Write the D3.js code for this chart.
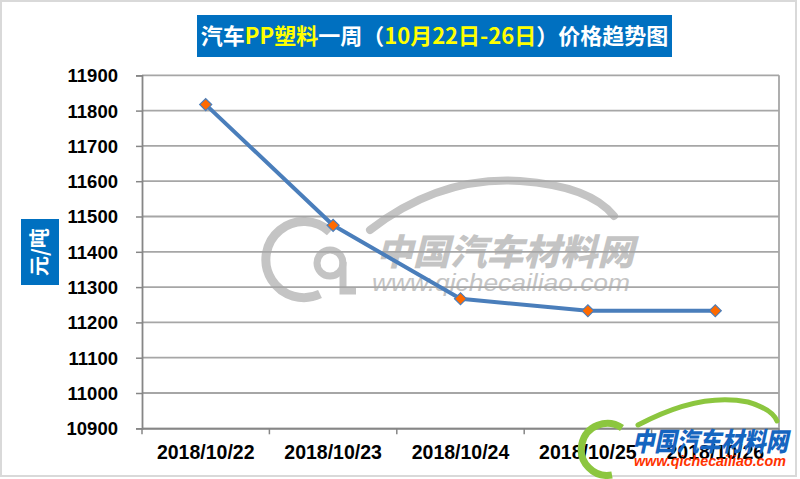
<!DOCTYPE html>
<html><head><meta charset="utf-8">
<script src="https://cdn.jsdelivr.net/npm/d3@7/dist/d3.min.js"></script>
<style>body{margin:0;background:#fff}svg{display:block}</style>
</head><body><svg id="c" width="800" height="479"></svg>
<script>
const categories = ["2018/10/22","2018/10/23","2018/10/24","2018/10/25","2018/10/26"];
const values = [11817, 11475, 11267, 11233, 11233];
const yTicks = [10900,11000,11100,11200,11300,11400,11500,11600,11700,11800,11900];
const titleParts = [["汽车","#fff"],["PP塑料","#ffff00"],["一周（","#fff"],["10月22日-26日","#ffff00"],["）价格趋势图","#fff"]];
const yLabel = "元/吨";

const svg = d3.select("#c");
const m={l:142,r:779,t:75.3,b:428.3};
svg.append("rect").attr("x",1).attr("y",1).attr("width",795).attr("height",475).attr("fill","#fff").attr("stroke","#d9d9d9").attr("stroke-width",2);

const x=d3.scaleBand().domain(categories).range([m.l,m.r]);
const y=d3.scaleLinear().domain([10900,11900]).range([m.b,m.t]);

// watermark (center)
const wc="#c4c4c4";
const wm=svg.append("g");
wm.append("path").attr("d","M370,230 Q440,176 520,181 Q590,186 614,216").attr("fill","none").attr("stroke",wc).attr("stroke-width",8).attr("stroke-linecap","round");
wm.append("path").attr("d","M330,232 A38,38 0 1 0 320,294").attr("fill","none").attr("stroke",wc).attr("stroke-width",9);
wm.append("circle").attr("cx",330).attr("cy",263).attr("r",13).attr("fill","none").attr("stroke",wc).attr("stroke-width",7);
wm.append("path").attr("d","M343,262 L343,291 L356,291").attr("fill","none").attr("stroke",wc).attr("stroke-width",7);
wm.append("text").attr("x",376).attr("y",265).attr("font-family","Noto Sans CJK SC").attr("font-weight",900).attr("font-style","italic").attr("font-size",36).attr("fill",wc).attr("textLength",258).attr("lengthAdjust","spacingAndGlyphs").text("中国汽车材料网");
wm.append("text").attr("x",372).attr("y",291).attr("font-family","Liberation Sans").attr("font-style","italic").attr("font-size",23).attr("fill",wc).attr("textLength",258).attr("lengthAdjust","spacingAndGlyphs").text("www.qichecailiao.com");

// gridlines
svg.append("g").selectAll("line").data(yTicks).join("line")
 .attr("x1",m.l).attr("x2",m.r).attr("y1",d=>y(d)).attr("y2",d=>y(d))
 .attr("stroke","#a6a6a6").attr("stroke-width",1.8);
svg.append("line").attr("x1",m.r).attr("x2",m.r).attr("y1",m.t).attr("y2",m.b).attr("stroke","#a6a6a6").attr("stroke-width",1.8);

// y axis
const ya=svg.append("g").attr("transform",`translate(${m.l},0)`).call(d3.axisLeft(y).tickValues(yTicks).tickSize(6).tickPadding(18).tickFormat(d3.format("d")));
ya.select(".domain").attr("stroke","#868686").attr("stroke-width",1.8);
ya.selectAll(".tick line").attr("stroke","#868686").attr("stroke-width",1.5);
ya.selectAll("text").attr("font-family","Liberation Sans").attr("font-weight","bold").attr("font-size",18.5).attr("fill","#000").attr("dy","0.35em");

// x axis
const xa=svg.append("g").attr("transform",`translate(0,${m.b})`).call(d3.axisBottom(x).tickSize(0).tickPadding(17));
xa.select(".domain").attr("stroke","#868686").attr("stroke-width",1.8);
xa.selectAll("text").attr("font-family","Liberation Sans").attr("font-weight","bold").attr("font-size",19.5).attr("fill","#000");
const seps=categories.map(c=>x(c)).concat([m.r]);
svg.append("g").selectAll("line").data(seps).join("line")
 .attr("x1",d=>d).attr("x2",d=>d).attr("y1",m.b).attr("y2",m.b+6).attr("stroke","#868686").attr("stroke-width",1.5);

// line
const pts=categories.map((c,i)=>[x(c)+x.bandwidth()/2,y(values[i])]);
svg.append("path").attr("d",d3.line()(pts)).attr("fill","none").attr("stroke","#4a7ebb").attr("stroke-width",4).attr("stroke-linejoin","round");
svg.append("g").selectAll("path").data(pts).join("path")
 .attr("d",d3.symbol(d3.symbolSquare,72))
 .attr("transform",d=>`translate(${d[0]},${d[1]}) rotate(45)`)
 .attr("fill","#ff6a00").attr("stroke","#4a7ebb").attr("stroke-width",1.2);

// bottom-right logo
const gc="#8cc63f";
const lg=svg.append("g");
lg.append("path").attr("d","M638,425 Q700,392 748,402 Q772,409 777,421").attr("fill","none").attr("stroke",gc).attr("stroke-width",5).attr("stroke-linecap","round");
lg.append("path").attr("d","M622,428 A26,26 0 1 0 612,475").attr("fill","none").attr("stroke",gc).attr("stroke-width",7);
lg.append("text").attr("x",632).attr("y",451).attr("font-family","Noto Sans CJK SC").attr("font-weight",900).attr("font-style","italic").attr("font-size",26).attr("fill","#1565c0").attr("textLength",156).attr("lengthAdjust","spacingAndGlyphs").text("中国汽车材料网");
lg.append("text").attr("x",634).attr("y",466).attr("font-family","Liberation Sans").attr("font-weight","bold").attr("font-style","italic").attr("font-size",15).attr("fill","#ff3300").attr("textLength",152).attr("lengthAdjust","spacingAndGlyphs").text("www.qichecailiao.com");

// title
svg.append("rect").attr("x",197).attr("y",15).attr("width",475).attr("height",42).attr("fill","#0070c0");
const tt=svg.append("text").attr("x",434.5).attr("y",44).attr("text-anchor","middle").attr("font-family","Noto Sans CJK SC").attr("font-weight","bold").attr("font-size",22);
tt.selectAll("tspan").data(titleParts).join("tspan").attr("fill",d=>d[1]).text(d=>d[0]);

// y label
svg.append("rect").attr("x",21).attr("y",219).attr("width",38).attr("height",66).attr("fill","#0070c0");
svg.append("text").attr("transform","translate(40,252) rotate(-90)").attr("text-anchor","middle").attr("dy","0.36em").attr("font-family","Noto Sans CJK SC").attr("font-weight","bold").attr("font-size",20).attr("fill","#fff").text(yLabel);
</script></body></html>
